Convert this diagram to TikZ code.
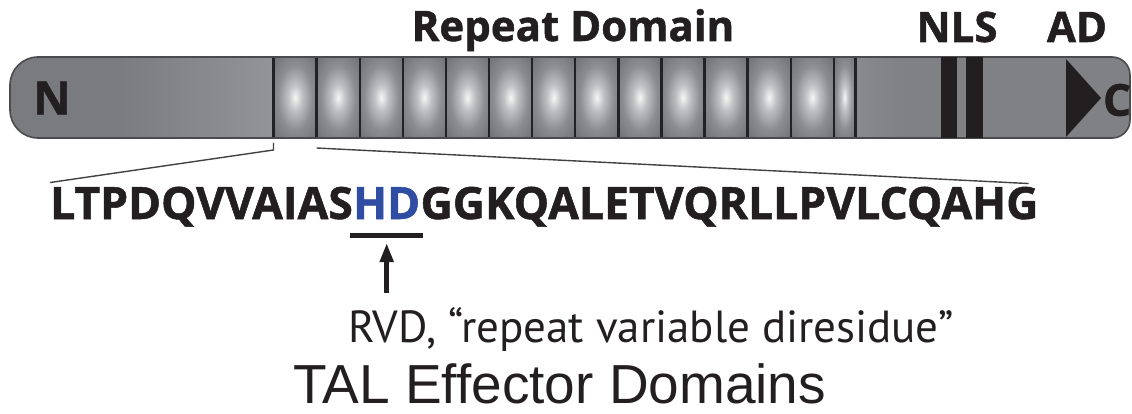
\documentclass[tikz,border=0pt]{standalone}
\usepackage{fontspec}
\usepackage{xcolor}
\setmainfont{Open Sans}[BoldFeatures={FakeBold=1.2}]
\newfontfamily\notefont{PT Sans}
\newfontfamily\titlefont{Liberation Sans}
\usetikzlibrary{positioning,arrows.meta,calc}
\definecolor{InkBlack}{RGB}{35,31,32}
\definecolor{HDBlue}{RGB}{47,78,163}
\definecolor{BarEdge}{RGB}{75,75,78}
\definecolor{TermDark}{RGB}{122,123,127}
\definecolor{TermLight}{RGB}{168,169,173}
\definecolor{TermMid}{RGB}{128,129,133}
\definecolor{CellEdge}{RGB}{34,34,36}
\definecolor{CellGlow}{RGB}{246,246,246}
\definecolor{CellLight}{RGB}{192,193,196}
\definecolor{CellMid}{RGB}{140,141,145}
\definecolor{CellOuter}{RGB}{110,111,115}
\definecolor{CellDeep}{RGB}{92,93,97}
% glowing centre of one repeat unit
\pgfdeclareradialshading{cellglow}{\pgfpoint{0bp}{0bp}}{color(0bp)=(CellGlow); color(8bp)=(CellLight); color(20bp)=(CellMid); color(36bp)=(CellOuter); color(50bp)=(CellDeep)}
\pgfdeclarehorizontalshading{nterm}{100bp}{color(0bp)=(TermDark); color(45bp)=(TermDark); color(100bp)=(TermLight)}
\pgfdeclarehorizontalshading{cterm}{100bp}{color(0bp)=(TermLight); color(33bp)=(TermMid); color(100bp)=(TermMid)}
% outline of the whole protein bar
\def\proteinbar{(600,57) [rounded corners=18pt] -- (1130,57) -- (1130,138) -- (600,138) [rounded corners=28pt] -- (10,138) -- (10,57) -- cycle}

\begin{document}
\begin{tikzpicture}[x=1pt,y=-1pt,
bartext/.style={font=\bfseries\fontsize{42}{42}\selectfont,text=InkBlack,inner sep=0pt},
seqtext/.style={font=\bfseries\fontsize{44.5}{44.5}\selectfont,text=InkBlack,inner sep=0pt,anchor=base west},
repeatcell/.style={draw=CellEdge,line width=2.4pt,shade,shading=cellglow,minimum width=43.1pt,minimum height=81pt,inner sep=0pt,outer sep=0pt,anchor=north west},
zoomline/.style={draw=InkBlack!85,line width=1.4pt},
ulbar/.style={draw=InkBlack,line width=5pt},
rvdarrow/.style={draw=InkBlack,line width=4.6pt,-{Triangle[length=19pt,width=13pt]}}
]
\useasboundingbox (0,0) rectangle (1132,414);

% bar body
\begin{scope}
\clip \proteinbar;
\shade[shading=nterm] (10,57) rectangle (274,138);
\shade[shading=cterm] (855,57) rectangle (1131,138);
\foreach \i in {1,...,13}
  \node[repeatcell] (cell\i) at ({273.5+43.1*(\i-1)},57) {};
\node[repeatcell,minimum width=21.5pt] (cell14) at (833.8,57) {};
\end{scope}
\draw[BarEdge,line width=1.6pt] \proteinbar;

% NLS bars and AD arrowhead
\fill[InkBlack] (941,57) rectangle (957,138);
\fill[InkBlack] (966,57) rectangle (983,138);
\fill[InkBlack] (1066,59) -- (1101,98) -- (1066,137) -- cycle;

\node[bartext,font=\bfseries\fontsize{46}{46}\selectfont] (nterm) at (52,98) {N};
\node[bartext,font=\bfseries\fontsize{44}{44}\selectfont] (cterm) at (1117,100) {C};

\node[bartext,anchor=base] (repeatlbl) at (573,41) {Repeat Domain};
\node[bartext,anchor=base] (nlslbl) at (957,42) {NLS};
\node[bartext,anchor=base] (adlbl) at (1077,42) {AD};

% one repeat spelled out
\node[seqtext] (seqA) at (50,219) {LTPDQVVAIAS};
\node[seqtext,text=HDBlue] (hd) at (seqA.base east) {HD};
\node[seqtext] (seqB) at (hd.base east) {GGKQALETVQRLLPVLCQAHG};

\draw[zoomline] ($(cell1.south west)+(0,5)$) -- ++(0,7) -- ($(seqA.north west)+(0,-4)$);
\draw[zoomline] ($(cell1.south east)+(0,10)$) -- ($(seqB.north east)+(-10,-3)$);

\draw[ulbar] ($(hd.base west)+(-3,16)$) -- ($(hd.base east)+(3,16)$);

\node[font=\notefont\fontsize{45}{45}\selectfont,text=InkBlack,inner sep=0pt,anchor=base west] (rvd) at (348,342) {RVD, “repeat variable diresidue”};
\draw[rvdarrow] ($(hd.base |- rvd.north)+(0,-14)$) -- ($(hd.base)+(0,24)$);

\node[font=\titlefont\fontsize{55}{55}\selectfont,text=InkBlack,inner sep=0pt,anchor=base west] (title) at (293,403) {TAL Effector Domains};
\end{tikzpicture}
\end{document}
